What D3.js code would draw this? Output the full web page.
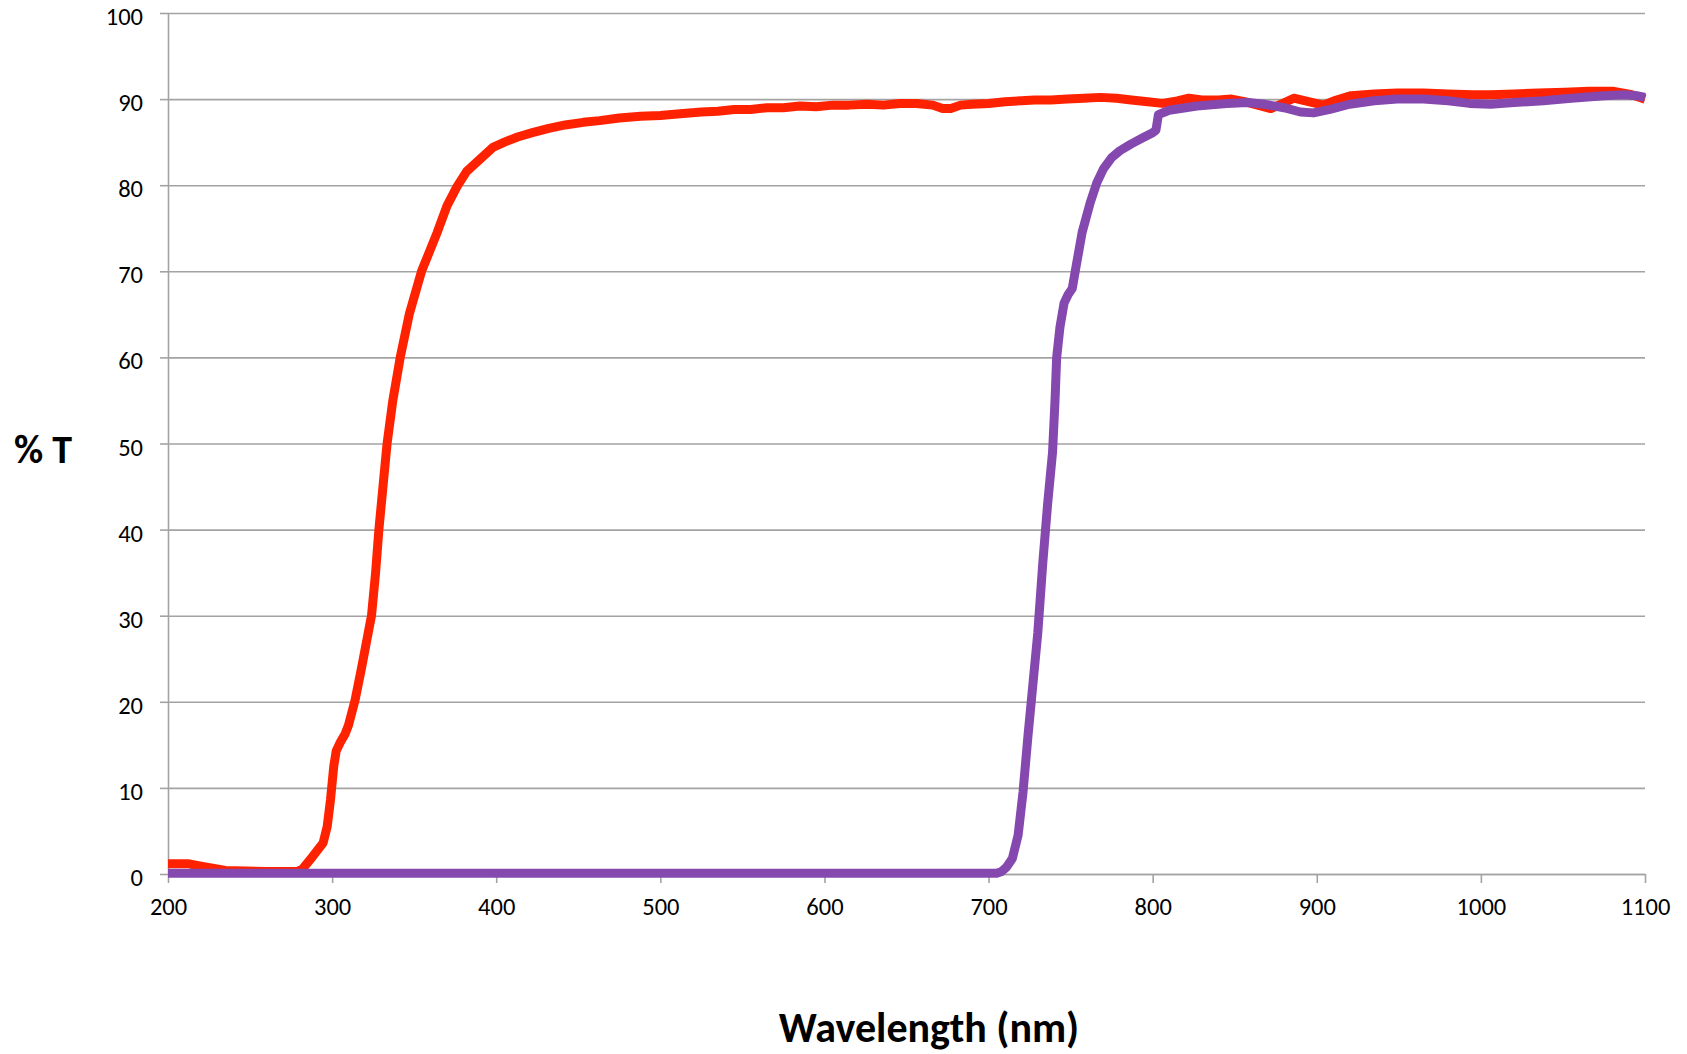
<!DOCTYPE html>
<html>
<head>
<meta charset="utf-8">
<script src="https://cdn.jsdelivr.net/npm/d3@7"></script>
<style>
  body { margin: 0; background: #fff; }
  svg text { font-family: Carlito, Lato, "Liberation Sans", sans-serif; fill: #000; }
  .grid line { stroke: #a3a3a3; stroke-width: 1.6; }
  .axis path, .axis line { stroke: #a3a3a3; stroke-width: 1.6; }
</style>
</head>
<body>
<svg id="thesvg" width="1687" height="1054"></svg>
<script>
'use strict';

// red filter: wavelength (nm) and % transmission
let redNm = [200, 212, 220, 235, 260, 279, 282, 288, 294.5, 297, 299, 301, 302.5, 305, 308, 310, 314, 318, 321, 324,
             326.5, 328.5, 331, 333.5, 337, 341.5, 347, 354.5, 364, 370, 376, 382, 390, 398, 405, 413, 422, 432,
             442, 453, 463, 475, 488, 500, 512, 525, 535, 545, 555, 565, 575, 585, 595, 605, 615, 626, 636, 646,
             656, 666, 672, 677, 683, 690, 700, 710, 720, 728, 738, 748, 758, 768, 778, 787, 797, 806, 815, 822,
             830, 840, 848, 856, 864, 872, 878, 886, 895, 904, 912, 921, 935, 949, 965, 980, 995, 1006, 1020, 1035,
             1051, 1066, 1081, 1092, 1100];
let redT  = [1.2, 1.2, 0.9, 0.4, 0.3, 0.3, 0.6, 2.0, 3.6, 5.5, 8.6, 12.5, 14.3, 15.3, 16.3, 17.3, 20.2, 24, 27, 30,
             35, 40, 45, 50, 55, 60, 65, 70, 74.5, 77.6, 79.8, 81.6, 83, 84.4, 85, 85.6, 86.1, 86.6,
             87.0, 87.3, 87.5, 87.8, 88.0, 88.1, 88.3, 88.5, 88.6, 88.8, 88.8, 89.0, 89.0, 89.2, 89.1, 89.3, 89.3, 89.4, 89.3, 89.5,
             89.5, 89.3, 88.9, 88.9, 89.3, 89.4, 89.5, 89.7, 89.8, 89.9, 89.9, 90.0, 90.1, 90.2, 90.1, 89.9, 89.7, 89.5, 89.8, 90.1,
             89.9, 89.9, 90.0, 89.7, 89.3, 88.9, 89.4, 90.1, 89.7, 89.3, 89.9, 90.4, 90.6, 90.7, 90.7, 90.6, 90.5, 90.5, 90.6, 90.7,
             90.8, 90.9, 90.9, 90.5, 90.0];

// purple filter
let purpleNm = [200, 705, 708, 711, 714.5, 718, 721, 724, 727, 730, 733, 736, 739, 740.5, 741.5, 743.5, 746, 748.5, 751, 753,
                757, 762, 766, 770, 775, 780, 787, 794, 800, 802, 803.5, 810, 827, 845, 858, 868, 880, 890, 898, 908,
                920, 935, 949, 965, 980, 993, 1006, 1020, 1038, 1055, 1075, 1087, 1095, 1100];
let purpleT  = [0.1, 0.1, 0.3, 0.8, 1.8, 4.5, 9.5, 16, 22, 28, 36, 43, 49, 55, 60, 63.5, 66.3, 67.3, 68, 70.2,
                74.5, 78, 80.3, 81.9, 83.2, 84.0, 84.8, 85.5, 86.1, 86.4, 88.2, 88.7, 89.2, 89.5, 89.6, 89.4, 89.0, 88.5, 88.4, 88.8,
                89.4, 89.8, 90.0, 90.0, 89.8, 89.5, 89.4, 89.6, 89.8, 90.1, 90.4, 90.5, 90.4, 90.2];

let xTicks = [200, 300, 400, 500, 600, 700, 800, 900, 1000, 1100],
    yTicks = [0, 10, 20, 30, 40, 50, 60, 70, 80, 90, 100];

var svg = d3.select("#thesvg"),
    margin = {top: 13, right: 42, bottom: 180, left: 168},
    width = svg.attr("width") - margin.left - margin.right,
    height = svg.attr("height") - margin.top - margin.bottom,
    x = d3.scaleLinear().domain([200, 1100]).range([0, width]),
    y = d3.scaleLinear().domain([0, 100]).range([height, 0]);

let g = svg.append("g")
    .attr("transform", "translate(" + margin.left + "," + margin.top + ")");

// horizontal gridlines
g.append("g")
    .attr("class", "grid")
    .call(d3.axisLeft(y).tickValues(yTicks).tickSize(-width).tickFormat(""))
    .call(s => s.select(".domain").remove());

g.append("g")
    .attr("class", "axis")
    .call(d3.axisLeft(y).tickValues(yTicks).tickSize(8).tickPadding(17).tickSizeOuter(0).tickFormat(d3.format("d")))
    .call(s => s.selectAll("text").style("font-size", "24.5px").attr("dy", "0.47em"));

g.append("g")
    .attr("class", "axis")
    .attr("transform", "translate(0," + height + ")")
    .call(d3.axisBottom(x).tickValues(xTicks).tickSize(9).tickPadding(15).tickSizeOuter(0).tickFormat(d3.format("d")))
    .call(s => s.selectAll("text").style("font-size", "24.5px"));

// axis titles
svg.append("text")
    .attr("x", 14)
    .attr("y", 449)
    .attr("dy", "0.35em")
    .style("font-size", "40px")
    .style("font-weight", "bold")
    .text("% T");

svg.append("text")
    .attr("x", 929)
    .attr("y", 1042)
    .attr("text-anchor", "middle")
    .style("font-size", "42px")
    .style("font-weight", "bold")
    .text("Wavelength (nm)");

var line = d3.line()
    .x(function(d) { return x(d[0]); })
    .y(function(d) { return y(d[1]); });

let series = [
  {nm: redNm, t: redT, color: "#ff2200"},
  {nm: purpleNm, t: purpleT, color: "#8548ae"}
];

series.forEach(function(s) {
  g.append("path")
      .datum(s.nm.map(function(v, i) { return [v, s.t[i]]; }))
      .attr("fill", "none")
      .attr("stroke", s.color)
      .attr("stroke-width", 9)
      .attr("stroke-linejoin", "round")
      .attr("stroke-linecap", "butt")
      .attr("d", line);
});
</script>
</body>
</html>
